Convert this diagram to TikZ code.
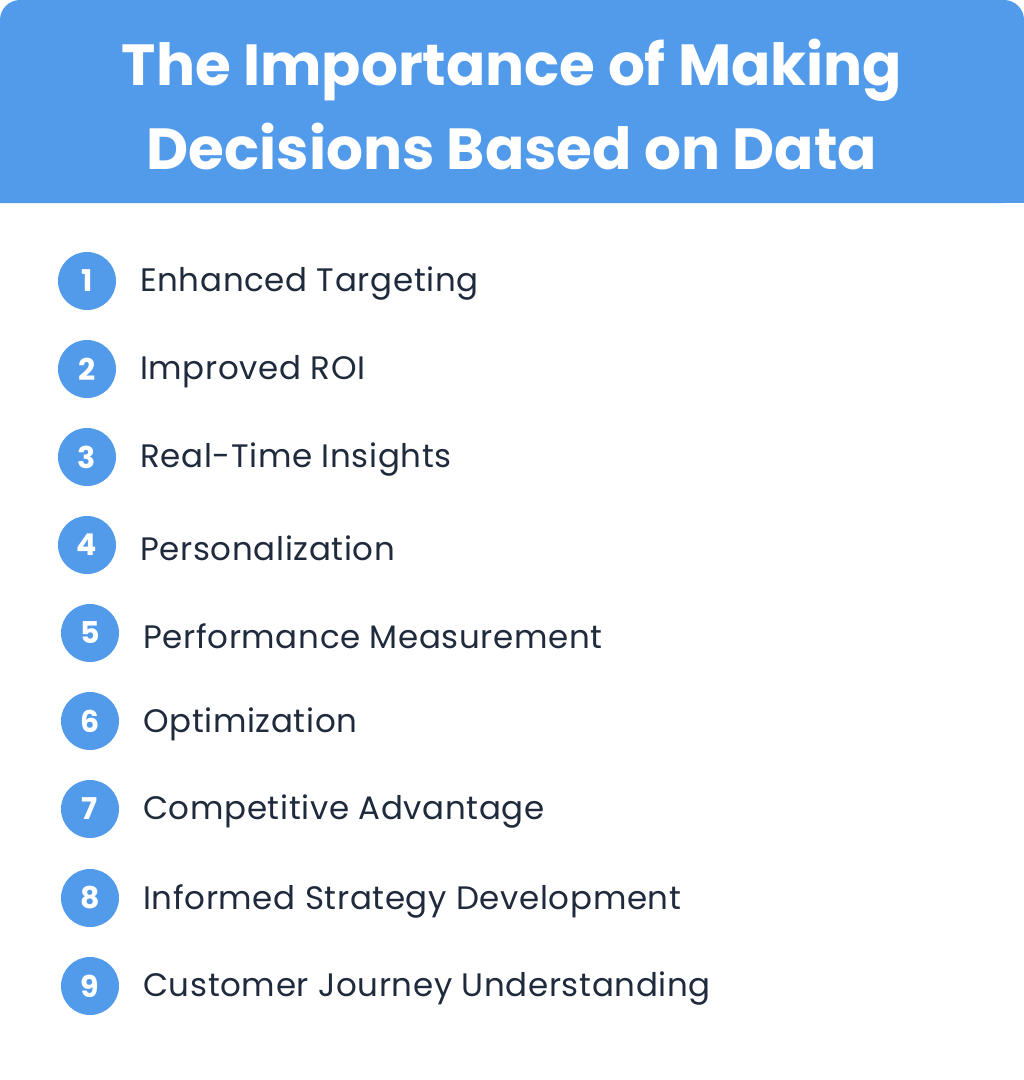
\documentclass[tikz,border=0pt]{standalone}
\usepackage{fontspec}
\setmainfont{Poppins}
\newfontfamily\itemfont[LetterSpace=2]{Poppins}
\definecolor{hdr}{HTML}{529BEB}
\definecolor{txt}{HTML}{1F2A3C}
\begin{document}
\begin{tikzpicture}[x=1pt,y=-1pt,
  num/.style={circle,fill=hdr,minimum size=58pt,inner sep=0pt,text=white,font=\fontsize{30}{30}\selectfont\bfseries},
  item/.style={anchor=west,text=txt,font=\itemfont\fontsize{32.5}{32}\selectfont,inner sep=0pt}]
\useasboundingbox (0,0) rectangle (1024,1080);
\fill[white] (0,0) rectangle (1024,1080);
\fill[hdr,rounded corners=20pt] (0,203) -- (0,0) -- (1024,0) -- (1024,203) [sharp corners]-- cycle;
\fill[hdr] (0,150) rectangle (1024,203);
\node[text=white,font=\fontsize{58}{84}\selectfont\bfseries,align=center] (title) at (512,104) {The Importance of Making\\Decisions Based on Data};
\foreach \i/\x/\y/\t in {1/87/281/Enhanced Targeting,2/87/369/Improved ROI,3/87/457/Real-Time Insights,4/87/545/Personalization,5/90/633/Performance Measurement,6/90/721/Optimization,7/90/809/Competitive Advantage,8/90/898/Informed Strategy Development,9/90/986/Customer Journey Understanding}{
  \node[num] (n\i) at (\x,\y) {\i};
  \node[item] (t\i) at (\x+53,\y+3) {\t};
}
\end{tikzpicture}
\end{document}
